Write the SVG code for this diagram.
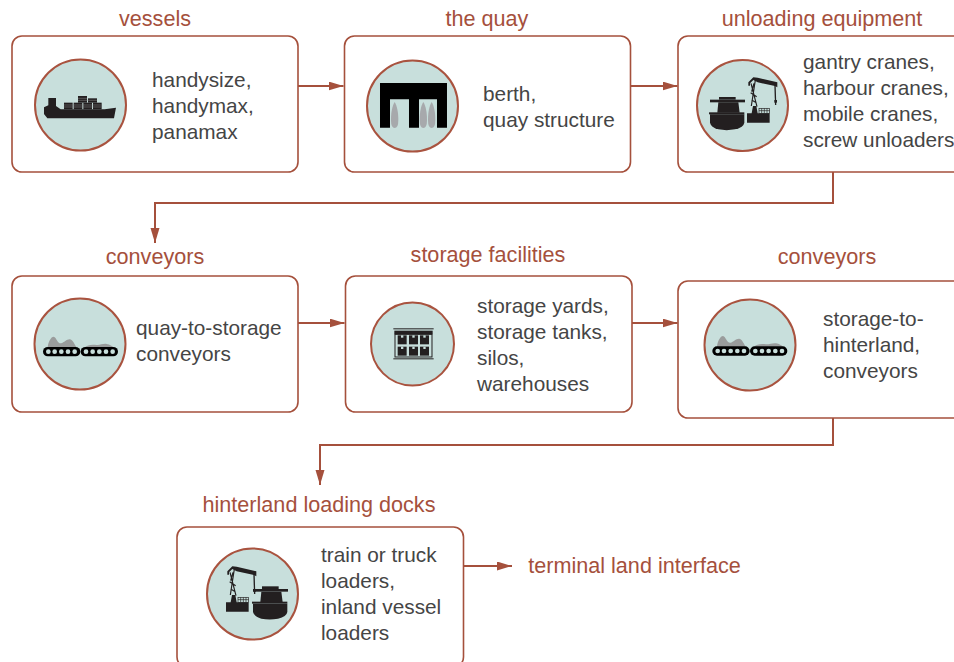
<svg xmlns="http://www.w3.org/2000/svg" xmlns:xlink="http://www.w3.org/1999/xlink" width="954" height="662" viewBox="0 0 954 662">
<style>
text{font-family:"Liberation Sans",Arial,sans-serif;font-size:20.800px}
.t{fill:#a5503c;text-anchor:middle;font-size:21.600px}
.b{fill:#454545}
.box{fill:#fff;stroke:#a5503c;stroke-width:1.600}
.c{fill:#c8dfdc;stroke:#a9533f;stroke-width:2}
.l{fill:none;stroke:#a5503c;stroke-width:2}
.k{fill:#231f20}
</style>
<defs>
<marker id="a" markerUnits="userSpaceOnUse" markerWidth="16" markerHeight="10" refX="15" refY="4.500" orient="auto"><path d="M0 0L15 4.500L0 9Z" fill="#a5503c"/></marker>
<g id="conv">
<path d="M68 172C70 155 78 140 86 140C95 142 96 160 108 160C118 158 125 147 135 148C145 150 148 165 155 172Z" fill="#9a9c9c"/>
<path d="M180 172C185 165 200 163 215 165C225 166 235 160 245 162C255 164 262 168 265 172Z" fill="#9a9c9c"/>
<rect x="54" y="171" width="112" height="28" rx="14" fill="#000"/>
<rect x="167" y="171" width="112" height="28" rx="14" fill="#000"/>
<g fill="#c8dfdc"><circle cx="70" cy="185" r="7"/><circle cx="89" cy="185" r="7"/><circle cx="109" cy="185" r="7"/><circle cx="129" cy="185" r="7"/><circle cx="149" cy="185" r="7"/><circle cx="183" cy="185" r="7"/><circle cx="203" cy="185" r="7"/><circle cx="223" cy="185" r="7"/><circle cx="243" cy="185" r="7"/><circle cx="263" cy="185" r="7"/></g>
</g>
<g id="ship" class="k">
<rect x="75" y="149" width="105" height="8"/><rect x="102" y="141" width="50" height="8"/><path d="M100 157H160L164 188H97Z"/><rect x="72" y="187" width="106" height="6"/>
<path d="M75 193H178V218Q176 232 150 238Q125 243 100 238Q78 232 75 218Z"/>
</g>
<g id="crane">
<path class="k" d="M186 218V190H200L204 168H214L218 190H254V218Z"/>
<path d="M198 100L216 170M212 84L199 168M197 128L215 140M207 100L200 125M200 150L214 158" fill="none" stroke="#231f20" stroke-width="3.500"/>
<path class="k" d="M190 107V97L205 82L218 83L277 97V112L270 108L218 97L205 90L195 100V107Z"/>
<path d="M270 105L272 165" fill="none" stroke="#231f20" stroke-width="4"/>
<rect x="268" y="150" width="8" height="8" fill="#231f20"/>
<g fill="none" stroke="#231f20" stroke-width="2"><rect x="222" y="175" width="32" height="15"/><path d="M222 182H254M230 175V190M238 175V190M246 175V190"/></g>
</g>
</defs>
<g id="connectors">
<path class="l" marker-end="url(#a)" d="M298 86H343.500"/>
<path class="l" marker-end="url(#a)" d="M631 86H677.500"/>
<path class="l" marker-end="url(#a)" d="M833 172V203H155V243"/>
<path class="l" marker-end="url(#a)" d="M298 323H344.500"/>
<path class="l" marker-end="url(#a)" d="M632 323H677.500"/>
<path class="l" marker-end="url(#a)" d="M833 418V445H320V485"/>
<path class="l" marker-end="url(#a)" d="M464 566H512"/>
</g>
<g id="vessels">
<rect class="box" x="12" y="36" width="286" height="136" rx="10"/>
<text class="t" x="155" y="26">vessels</text>
<circle class="c" cx="80.500" cy="105" r="45.500"/>
<g transform="translate(20 40) scale(.3333)">
<path class="k" d="M85 174H108V198L122 208H254L288 203L282 235H82L72 222V202L85 196Z"/>
<g fill="#231f20"><rect x="132" y="188" width="26" height="20"/><rect x="161" y="188" width="26" height="20"/><rect x="190" y="188" width="26" height="20"/><rect x="219" y="188" width="26" height="20"/><rect x="174" y="168" width="27" height="20"/><rect x="204" y="175" width="27" height="13"/></g>
<g stroke="#8f9090" stroke-width="1.500"><path d="M132 195H244M132 201H244M174 175H201M174 181H231"/></g>
</g>
<text class="b" x="152" y="87">handysize,</text><text class="b" x="152" y="113">handymax,</text><text class="b" x="152" y="139">panamax</text>
</g>
<g id="quay">
<rect class="box" x="344.500" y="36" width="286" height="136" rx="10"/>
<text class="t" x="487" y="26">the quay</text>
<circle class="c" cx="412.500" cy="106" r="45.500"/>
<g transform="translate(360 50) scale(.3333)">
<path fill="#000" d="M60 99H261V233H231V148H177V233H147V148H90V233H60Z"/>
<g fill="#a7a9ac"><path d="M104 156C97 168 93 185 93 210Q93 234 104 234Q115 234 115 210C115 185 111 168 104 156Z"/><path d="M190 156C183 168 179 185 179 210Q179 234 190 234Q201 234 201 210C201 185 197 168 190 156Z"/><path d="M215 156C208 168 204 185 204 210Q204 234 215 234Q226 234 226 210C226 185 222 168 215 156Z"/></g>
</g>
<text class="b" x="483" y="101">berth,</text><text class="b" x="483" y="127">quay structure</text>
</g>
<g id="unloading">
<rect class="box" x="678" y="36" width="290" height="136" rx="10"/>
<text class="t" x="822" y="26">unloading equipment</text>
<circle class="c" cx="742.500" cy="105.500" r="45.500"/>
<g transform="translate(685 50) scale(.3333)"><use xlink:href="#ship" href="#ship"/><use xlink:href="#crane" href="#crane"/></g>
<text class="b" x="803" y="69">gantry cranes,</text><text class="b" x="803" y="95">harbour cranes,</text><text class="b" x="803" y="121">mobile cranes,</text><text class="b" x="803" y="147">screw unloaders</text>
</g>
<g id="conveyors1">
<rect class="box" x="12" y="276" width="286" height="136" rx="10"/>
<text class="t" x="155" y="264">conveyors</text>
<circle class="c" cx="80" cy="344" r="45.500"/>
<g transform="translate(25 290) scale(.3333)"><use xlink:href="#conv" href="#conv"/></g>
<text class="b" x="136" y="335">quay-to-storage</text><text class="b" x="136" y="361">conveyors</text>
</g>
<g id="storage">
<rect class="box" x="345.500" y="276" width="286.500" height="136" rx="10"/>
<text class="t" x="488" y="262">storage facilities</text>
<circle class="c" cx="412.500" cy="344" r="41.500"/>
<g transform="translate(360 295) scale(.3333)">
<rect x="100" y="100" width="121" height="3" fill="#231f20"/><rect x="103" y="107" width="115" height="11" fill="#231f20"/><rect x="100" y="190" width="121" height="3" fill="#231f20"/>
<rect x="105" y="118" width="111" height="68" fill="none" stroke="#231f20" stroke-width="3"/>
<g class="k"><rect x="113" y="121" width="27" height="27"/><rect x="147" y="121" width="27" height="27"/><rect x="180" y="121" width="27" height="27"/><rect x="113" y="155" width="27" height="27"/><rect x="147" y="155" width="27" height="27"/><rect x="180" y="155" width="27" height="27"/></g>
<g fill="#c8dfdc"><rect x="123" y="121" width="7" height="7"/><rect x="157" y="121" width="7" height="7"/><rect x="190" y="121" width="7" height="7"/><rect x="123" y="155" width="7" height="7"/><rect x="157" y="155" width="7" height="7"/><rect x="190" y="155" width="7" height="7"/></g>
</g>
<text class="b" x="477" y="313">storage yards,</text><text class="b" x="477" y="339">storage tanks,</text><text class="b" x="477" y="365">silos,</text><text class="b" x="477" y="391">warehouses</text>
</g>
<g id="conveyors2">
<rect class="box" x="678" y="281" width="290" height="137" rx="10"/>
<text class="t" x="827" y="264">conveyors</text>
<circle class="c" cx="750" cy="345" r="45.500"/>
<g transform="translate(695 295) scale(.3333)"><use xlink:href="#conv" href="#conv" transform="translate(-2 -17)"/></g>
<text class="b" x="823" y="326">storage-to-</text><text class="b" x="823" y="352">hinterland,</text><text class="b" x="823" y="378">conveyors</text>
</g>
<g id="hinterland">
<rect class="box" x="177" y="527" width="286.500" height="140" rx="10"/>
<text class="t" x="319" y="512">hinterland loading docks</text>
<circle class="c" cx="252.500" cy="594" r="45.500"/>
<g transform="translate(200 540) scale(.3333)"><use xlink:href="#ship" href="#ship" transform="translate(84 -2)"/><use xlink:href="#crane" href="#crane" transform="translate(-108 -3)"/></g>
<text class="b" x="321" y="562">train or truck</text><text class="b" x="321" y="588">loaders,</text><text class="b" x="321" y="614">inland vessel</text><text class="b" x="321" y="640">loaders</text>
</g>
<text id="terminal" class="t" x="634.500" y="573">terminal land interface</text>
</svg>
